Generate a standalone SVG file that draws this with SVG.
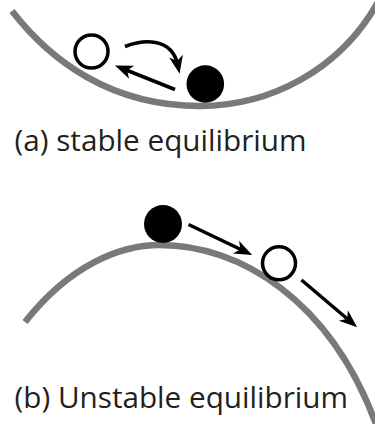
<svg xmlns="http://www.w3.org/2000/svg" width="375" height="424" viewBox="0 0 375 424">
<style>
.track{fill:none;stroke:#77797b;stroke-width:6.5}
.arrow{fill:none;stroke:#000;stroke-width:3.5;marker-end:url(#head)}
.ball-empty{fill:#fff;stroke:#000;stroke-width:3.5}
.ball-full{fill:#000}
.label{font-family:"Open Sans","Noto Sans",sans-serif;fill:#231f20;font-size:29.7px}
</style>
<defs>
<marker id="head" markerUnits="userSpaceOnUse" orient="auto" overflow="visible" refX="-8" refY="0" markerWidth="20" markerHeight="20">
<path d="M0,0 L-18,-7 L-13,0 L-18,7 Z" fill="#000"/>
</marker>
</defs>
<g id="stable">
<path class="track" d="M12,11 C50,60 110,106 200,106 C270,106 340,70 378,2"/>
<circle id="stable-empty" class="ball-empty" cx="91.5" cy="51.5" r="16.5"/>
<circle id="stable-full" class="ball-full" cx="205.3" cy="84" r="18.8"/>
<text class="label" x="14.5" y="150.7">(a) stable equilibrium</text>
</g>
<g id="unstable">
<path class="track" d="M25,322 C70,265 120,245 160,245 C240,245 330,300 376,424"/>
<circle id="unstable-full" class="ball-full" cx="163" cy="224" r="19"/>
<circle id="unstable-empty" class="ball-empty" cx="279" cy="263.3" r="16.5"/>
<text class="label" x="14.5" y="407.5">(b) Unstable equilibrium</text>
</g>
<g id="connectors">
<path class="arrow" d="M175,89.5 L122.4,68.5"/>
<path class="arrow" d="M125,46.5 C142,40 172,36 178,66"/>
<path class="arrow" d="M188.5,224.5 L245,251.5"/>
<path class="arrow" d="M301.5,280 L351,322"/>
</g>
</svg>
